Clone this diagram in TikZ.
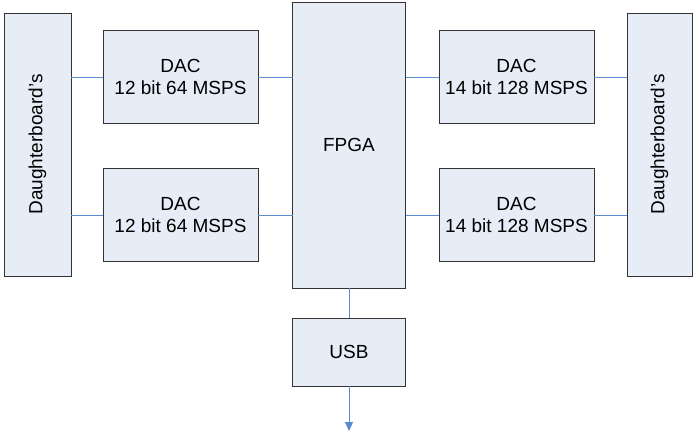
\documentclass[tikz,border=0pt]{standalone}
\usepackage{fontspec}
\setmainfont{Liberation Sans}
\usetikzlibrary{arrows.meta}
\definecolor{boxfill}{HTML}{E7EDF7}
\definecolor{boxline}{HTML}{333333}
\definecolor{wire}{HTML}{5B8BD0}
\begin{document}
\begin{tikzpicture}[x=1pt,y=-1pt,
  blk/.style={draw=boxline,fill=boxfill,line width=0.9pt,inner sep=0pt,outer sep=0pt,
    font=\fontsize{19}{22}\selectfont,align=center},
  link/.style={draw=wire,line width=1pt}]
\useasboundingbox (0,0) rectangle (695,432);
% boards along the edges
\node[blk,minimum width=67pt,minimum height=263pt] (dbl) at (37.5,144.5)
  {\rotatebox{90}{Daughterboard’s}};
\node[blk,minimum width=65pt,minimum height=263pt] (dbr) at (659.5,144.5)
  {\rotatebox{90}{Daughterboard’s}};
% converters
\node[blk,minimum width=155pt,minimum height=93pt] (dac1) at (180.5,76.5) {DAC\\12 bit 64 MSPS};
\node[blk,minimum width=155pt,minimum height=93pt] (dac2) at (180.5,214.5) {DAC\\12 bit 64 MSPS};
\node[blk,minimum width=155pt,minimum height=93pt] (dac3) at (516.5,76.5) {DAC\\14 bit 128 MSPS};
\node[blk,minimum width=155pt,minimum height=93pt] (dac4) at (516.5,214.5) {DAC\\14 bit 128 MSPS};
% logic and host link
\node[blk,minimum width=113pt,minimum height=286pt] (fpga) at (349,145) {FPGA};
\node[blk,minimum width=113pt,minimum height=68pt] (usb) at (349,352) {USB};
\coordinate (out) at (349,431);
% connections
\draw[link] (dbl.east |- 0,77.5) -- (dac1.west |- 0,77.5);
\draw[link] (dac1.east |- 0,77.5) -- (fpga.west |- 0,77.5);
\draw[link] (dbl.east |- 0,215) -- (dac2.west |- 0,215);
\draw[link] (dac2.east |- 0,215) -- (fpga.west |- 0,215);
\draw[link] (fpga.east |- 0,77.5) -- (dac3.west |- 0,77.5);
\draw[link] (dac3.east |- 0,77.5) -- (dbr.west |- 0,77.5);
\draw[link] (fpga.east |- 0,215) -- (dac4.west |- 0,215);
\draw[link] (dac4.east |- 0,215) -- (dbr.west |- 0,215);
\draw[link] (fpga.south) -- (usb.north);
\draw[link,-{Triangle[width=8pt,length=9pt]},fill=wire] (usb.south) -- (out);
\end{tikzpicture}
\end{document}
